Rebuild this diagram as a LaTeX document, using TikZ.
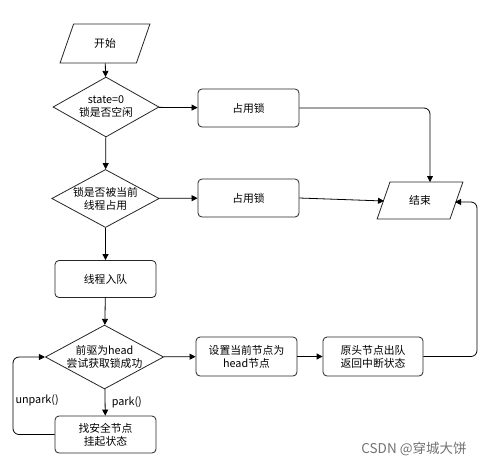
\documentclass[tikz,border=0pt]{standalone}
\usepackage{fontspec}
\newfontfamily\cjk{Noto Sans CJK SC}
\usetikzlibrary{shapes.geometric,arrows.meta}
\begin{document}
\begin{tikzpicture}[x=1pt,y=-1pt,
  base/.style={draw=black!85, line width=0.8pt, font=\cjk\fontsize{10.8}{13}\selectfont, align=center, inner sep=0pt},
  proc/.style={base, rounded corners=4pt, minimum width=101pt, minimum height=38pt},
  para/.style={base, trapezium, trapezium left angle=65, trapezium right angle=115, minimum height=39pt, trapezium stretches=true},
  dec/.style={base, diamond, aspect=1.85, minimum width=107pt, minimum height=58pt},
  arr/.style={draw=black, line width=0.8pt, -{Triangle[length=6pt,width=6pt]}, rounded corners=6pt},
  lbl/.style={font=\cjk\fontsize{10.8}{13}\selectfont}
]
\useasboundingbox (0,0) rectangle (487,464);
\fill[white] (0,0) rectangle (487,464);

\node[para, minimum width=90pt] (start) at (105,43.5) {开始};
\node[dec, minimum width=106pt, minimum height=60pt] (d1) at (106,107) {state=0\\锁是否空闲};
\node[proc] (b1) at (248.5,108) {占用锁};
\node[dec, minimum width=107pt, minimum height=57pt] (d2) at (105.5,198.5) {锁是否被当前\\线程占用};
\node[proc] (b2) at (248.5,198) {占用锁};
\node[para, minimum width=86pt, minimum height=37pt] (end) at (420,200.5) {结束};
\node[proc, minimum height=37pt] (b3) at (105.5,279) {线程入队};
\node[dec, minimum width=109pt, minimum height=56pt] (d3) at (104.5,357) {前驱为head\\尝试获取锁成功};
\node[proc, minimum height=37pt] (b4) at (105.5,434.5) {找安全节点\\挂起状态};
\node[proc, minimum height=39pt] (b5) at (246.5,356.5) {设置当前节点为\\head节点};
\node[proc, minimum width=100pt, minimum height=39pt] (b6) at (373,356.5) {原头节点出队\\返回中断状态};

\draw[arr] (start) -- (d1);
\draw[arr] (d1) -- (b1);
\draw[arr] (b1.east) -| (430,182);
\draw[arr] (d1) -- (d2);
\draw[arr] (d2) -- (b2);
\draw[arr] (b2.east) -- (384,201);
\draw[arr] (d2) -- (b3);
\draw[arr] (b3) -- (d3);
\draw[arr] (d3) -- (b5);
\draw[arr] (b5) -- (b6);
\draw[arr] (b6.east) -| (477,202) -- (455,202);
\draw[arr] (d3) -- node[lbl, right, xshift=3pt] {park()} (b4);
\draw[arr] (b4.west) -| (13,357) -- (d3.west);
\node[lbl, right] (up) at (12,400) {unpark()};

\node[font=\cjk\fontsize{13.5}{16}\selectfont, text=black!55] (csdn) at (414,449) {CSDN @穿城大饼};
\end{tikzpicture}
\end{document}
